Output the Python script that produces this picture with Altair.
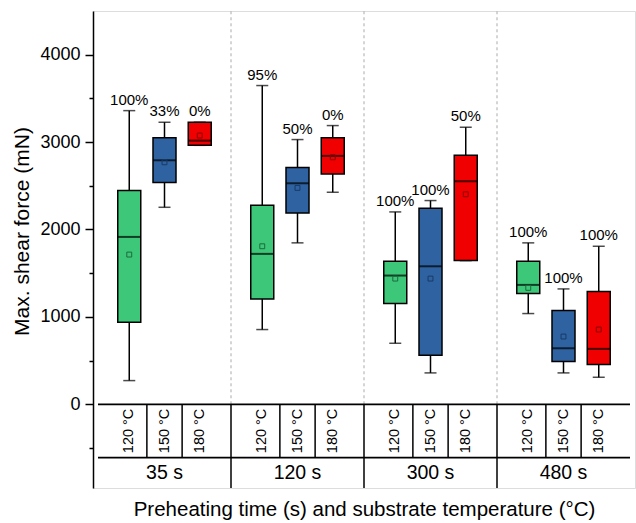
import altair as alt
import pandas as pd

# ---- data ----
times = ["35 s", "120 s", "300 s", "480 s"]
temps = ["120 °C", "150 °C", "180 °C"]
w_low  = [271, 2254, 2963,  855, 1847, 2426,  698,  359, 1644, 1038,  359,  309]
q1     = [938, 2537, 2963, 1206, 2190, 2636, 1152,  561, 1644, 1267,  489,  454]
median = [1915, 2792, 3017, 1721, 2529, 2842, 1473, 1579, 2552, 1366,  641,  634]
q3     = [2445, 3051, 3227, 2277, 2708, 3051, 1636, 2243, 2849, 1636, 1072, 1290]
w_high = [3360, 3227, 3227, 3647, 3029, 3189, 2201, 2331, 3170, 1847, 1320, 1808]
mean   = [1713, 2769, 3075, 1808, 2476, 2826, 1438, 1438, 2403, 1332,  775,  855]
pct    = ["100%", "33%", "0%", "95%", "50%", "0%", "100%", "100%", "50%", "100%", "100%", "100%"]

# ---- layout / style ----
FONT = "Liberation Sans"
fill_colors = ["#3CC878", "#2E62A0", "#F00000"]
mean_colors = ["#1E6A3E", "#1A3A66", "#8A0000"]
SUB = 0.265          # offset of sub-boxes inside a group (group units)
YTOP = 4500
ROW1 = -610          # bottom of temperature row
ROWB = -958          # bottom of time row

rows = []
k = 0
for i, t in enumerate(times):
    for j, tp in enumerate(temps):
        rows.append(dict(time=t, temp=tp, pos=i + 0.5 + (j - 1) * SUB,
                         lo=w_low[k], q1=q1[k], med=median[k], q3=q3[k],
                         hi=w_high[k], mean=mean[k], pct=pct[k],
                         mcol=mean_colors[j], trow=(ROW1) / 2))
        k += 1
df = pd.DataFrame(rows)

n = len(times)
xs = alt.Scale(domain=[0, n], nice=False, zero=False)
ys = alt.Scale(domain=[ROWB, YTOP], nice=False, zero=False)
xaxis = alt.Axis(labels=False, ticks=False, domain=False, grid=False,
                 title="Preheating time (s) and substrate temperature (°C)",
                 titleFontSize=20.5, titleFont=FONT, titleFontWeight="normal",
                 titleColor="black", titlePadding=11)
yaxis = alt.Axis(values=[-500, 0, 500, 1000, 1500, 2000, 2500, 3000, 3500, 4000],
                 labelExpr="(datum.value % 1000 === 0 && datum.value >= 0) ? datum.label : ''",
                 format="d", grid=False,
                 tickSize={"condition": {"test": "datum.value % 1000 === 0", "value": 8}, "value": 4},
                 tickWidth=1.5, tickColor="black", domainColor="black", domainWidth=1.5,
                 labelFontSize=18, labelFont=FONT, labelColor="black", labelPadding=5,
                 title="Max. shear force (mN)", titleFontSize=21, titleFont=FONT,
                 titleFontWeight="normal", titleColor="black", titlePadding=7,
                 titleY=220)


def X(f):
    return alt.X(f, type="quantitative", scale=xs, axis=xaxis)


def Y(f):
    return alt.Y(f, type="quantitative", scale=ys, axis=yaxis)


color = alt.Color("temp:N", scale=alt.Scale(domain=temps, range=fill_colors), legend=None)

# group boundaries / table lines
bounds = pd.DataFrame({"x": list(range(1, n)), "y0": 0, "y1": YTOP, "yb": ROWB})
hl = pd.DataFrame({"y": [0, ROW1], "x0": 0, "x1": n})
subs = pd.DataFrame({"x": [i + 0.5 + s * SUB / 2 for i in range(n) for s in (-1, 1)],
                     "y0": ROW1, "y1": 0})
tlab = pd.DataFrame({"time": times, "x": [i + 0.5 for i in range(n)], "y": (ROW1 + ROWB) / 2})

dashed = alt.Chart(bounds).mark_rule(color="#aaaaaa", strokeDash=[3, 3], strokeWidth=1).encode(
    x=X("x"), y=Y("y0"), y2="y1")
vgrp = alt.Chart(bounds).mark_rule(color="black", strokeWidth=1.5).encode(
    x=X("x"), y=Y("yb"), y2="y0")
hlines = alt.Chart(hl).mark_rule(color="black", strokeWidth=1.8).encode(
    x=X("x0"), x2="x1", y=Y("y"))
vsub = alt.Chart(subs).mark_rule(color="black", strokeWidth=1.5).encode(
    x=X("x"), y=Y("y0"), y2="y1")

base = alt.Chart(df)
whisk = base.mark_rule(color="black", strokeWidth=1.5).encode(x=X("pos"), y=Y("lo"), y2="hi")
cap_lo = base.mark_tick(orient="horizontal", size=12, thickness=1.5, color="black").encode(
    x=X("pos"), y=Y("lo"))
cap_hi = base.mark_tick(orient="horizontal", size=12, thickness=1.5, color="black").encode(
    x=X("pos"), y=Y("hi"))
box = base.mark_bar(size=23, stroke="black", strokeWidth=1.5, opacity=1).encode(
    x=X("pos"), y=Y("q1"), y2="q3", color=color)
med = base.mark_tick(orient="horizontal", size=23, thickness=2, color="black").encode(
    x=X("pos"), y=Y("med"))
mn = base.mark_point(shape="square", size=24, filled=False, strokeWidth=1, opacity=1).encode(
    x=X("pos"), y=Y("mean"), stroke=alt.Stroke("mcol:N", scale=None))
lab = base.mark_text(fontSize=15, font=FONT, color="black", baseline="alphabetic", dy=-6).encode(
    x=X("pos"), y=Y("hi"), text="pct:N")
templab = base.mark_text(fontSize=14.5, font=FONT, color="black", angle=270,
                         baseline="middle", align="center").encode(
    x=X("pos"), y=Y("trow"), text="temp:N")
timelab = alt.Chart(tlab).mark_text(fontSize=19.5, font=FONT, color="black",
                                    baseline="middle", align="center").encode(
    x=X("x"), y=Y("y"), text="time:N")

chart = alt.layer(dashed, vgrp, hlines, vsub, whisk, cap_lo, cap_hi, box, med, mn, lab,
                  templab, timelab).properties(
    width=542, height=477,
    autosize=alt.AutoSizeParams(type="none"),
    padding={"left": 93, "top": 11, "right": 1, "bottom": 35},
).configure_view(stroke="black", strokeWidth=1.5).configure(font=FONT, background="white")

chart.save("out.html", embed_options={"renderer": "svg", "actions": False})
